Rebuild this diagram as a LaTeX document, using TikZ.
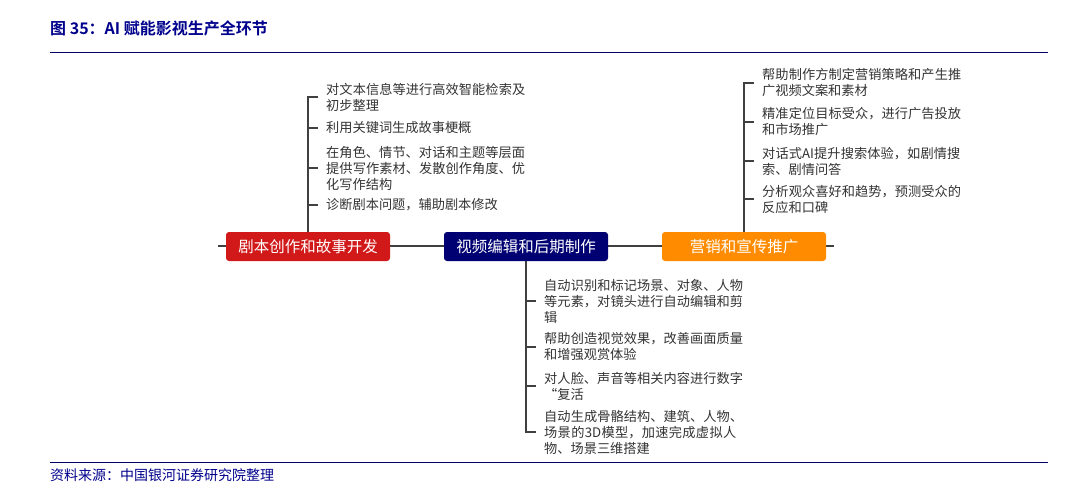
\documentclass[tikz,border=0pt]{standalone}
\usepackage{fontspec}
\setmainfont{Noto Sans CJK SC}
\newfontfamily\cjkb{Noto Sans CJK SC Bold}
\XeTeXlinebreaklocale "zh"
\XeTeXlinebreakskip=0pt plus 1pt
\begin{document}
\begin{tikzpicture}[x=1pt,y=-1pt,
  item/.style={anchor=west,inner sep=0pt,text width=201pt,align=left,font=\fontsize{13.2}{16}\selectfont,text=black!80},
  stage/.style={rounded corners=3pt,minimum width=164pt,minimum height=29pt,inner sep=0pt,text=white,font=\fontsize{15.5}{18}\selectfont},
  ln/.style={draw=black!75,line width=1.4pt}]
\useasboundingbox (0,0) rectangle (1089,498);
\node[anchor=west,inner sep=0pt,text=blue!55!black,font=\cjkb\fontsize{16}{18}\selectfont] (title) at (50,28) {图 35：AI 赋能影视生产全环节};
\draw[blue!40!black,line width=0.8pt] (50,52) coordinate (t1) -- (1048,52) coordinate (t2);
\draw[blue!40!black,line width=0.8pt] (50,462) coordinate (b1) -- (1048,462) coordinate (b2);
\node[anchor=west,inner sep=0pt,text=blue!55!black,font=\fontsize{14}{16}\selectfont\itshape] (src) at (50,475) {资料来源：中国银河证券研究院整理};
\coordinate (ls) at (218,246); \coordinate (rs) at (834,246);
\draw[ln] (ls) -- (rs);
\node[stage,fill=red!80!black!90] (s1) at (308,246.5) {剧本创作和故事开发};
\node[stage,fill=blue!45!black] (s2) at (526,246.5) {视频编辑和后期制作};
\node[stage,fill=orange!90!yellow] (s3) at (744,246.5) {营销和宣传推广};
% left
\node[item] (a1) at (326,97) {对文本信息等进行高效智能检索及初步整理};
\node[item] (a2) at (326,128) {利用关键词生成故事梗概};
\node[item] (a3) at (326,168) {在角色、情节、对话和主题等层面提供写作素材、发散创作角度、优化写作结构};
\node[item] (a4) at (326,205) {诊断剧本问题，辅助剧本修改};
\draw[ln] (s1.north) -- (308,97) -- ([xshift=-8pt]a1.west);
\foreach \n in {a2,a3,a4} \draw[ln] (308,0 |- \n.west) -- ([xshift=-8pt]\n.west);
% right
\node[item] (c1) at (762,83) {帮助制作方制定营销策略和产生推广视频文案和素材};
\node[item] (c2) at (762,122) {精准定位目标受众，进行广告投放和市场推广};
\node[item] (c3) at (762,161) {对话式AI提升搜索体验，如剧情搜索、剧情问答};
\node[item] (c4) at (762,199) {分析观众喜好和趋势，预测受众的反应和口碑};
\draw[ln] (s3.north) -- (744,83) -- ([xshift=-8pt]c1.west);
\foreach \n in {c2,c3,c4} \draw[ln] (744,0 |- \n.west) -- ([xshift=-8pt]\n.west);
% bottom
\node[item] (d1) at (544,301) {自动识别和标记场景、对象、人物等元素，对镜头进行自动编辑和剪辑};
\node[item] (d2) at (544,347) {帮助创造视觉效果，改善画面质量和增强观赏体验};
\node[item] (d3) at (544,386) {对人脸、声音等相关内容进行数字“复活};
\node[item] (d4) at (544,432) {自动生成骨骼结构、建筑、人物、场景的3D模型，加速完成虚拟人物、场景三维搭建};
\draw[ln] (s2.south) -- (526,432) -- ([xshift=-8pt]d4.west);
\foreach \n in {d1,d2,d3} \draw[ln] (526,0 |- \n.west) -- ([xshift=-8pt]\n.west);
\end{tikzpicture}
\end{document}
